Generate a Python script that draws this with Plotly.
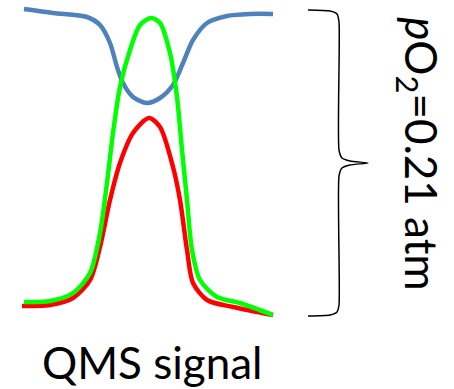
import plotly.graph_objects as go

# Curves (pixel-like coordinate frame: x right, y down)
blue_x = [24, 53, 87, 100, 110, 117, 123, 133, 147, 160, 173, 183, 193, 207, 227, 250, 273]
blue_y = [9, 13, 17, 25, 43, 67, 83, 97, 103, 98, 85, 63, 40, 23, 16, 14, 14]

green_x = [24, 50, 73, 90, 100, 107, 113, 120, 130, 140, 151, 160, 170, 177, 182, 187, 192, 200, 217, 240, 273]
green_y = [302, 301, 293, 273, 233, 183, 133, 87, 50, 25, 18, 23, 53, 97, 150, 200, 250, 280, 297, 303, 315]

red_x = [22, 50, 73, 90, 100, 110, 120, 133, 149, 160, 173, 180, 187, 193, 207, 233, 273]
red_y = [306, 305, 298, 280, 247, 200, 163, 133, 118, 127, 167, 200, 250, 283, 300, 307, 315]

# Brace outline
brace_x = [308, 330, 337, 339, 339, 342, 350, 368, 350, 342, 339, 339, 337, 330, 308]
brace_y = [10, 11, 14, 22, 150, 158, 161, 163, 165, 168, 176, 305, 312, 315, 316]

label_side = "<i>p</i>O<sub>2</sub>=0.21 atm"
label_bottom = "QMS signal"

fig = go.Figure()
fig.add_trace(go.Scatter(x=blue_x, y=blue_y, mode="lines",
                         line=dict(color="#4F81BD", width=4.5, shape="spline", smoothing=0.8)))
fig.add_trace(go.Scatter(x=red_x, y=red_y, mode="lines",
                         line=dict(color="#FF0000", width=4.5, shape="spline", smoothing=0.8)))
fig.add_trace(go.Scatter(x=green_x, y=green_y, mode="lines",
                         line=dict(color="#00FF00", width=4.5, shape="spline", smoothing=0.8)))
fig.add_trace(go.Scatter(x=brace_x, y=brace_y, mode="lines",
                         line=dict(color="black", width=1.5, shape="spline", smoothing=0.6)))

fig.add_annotation(x=419, y=154, text=label_side, textangle=90, showarrow=False,
                   font=dict(family="Lato", size=44, color="black"))
fig.add_annotation(x=152, y=362, text=label_bottom, showarrow=False,
                   font=dict(family="Lato", size=44, color="black"))

fig.update_layout(
    width=454, height=389, margin=dict(l=0, r=0, t=0, b=0),
    paper_bgcolor="white", plot_bgcolor="white", showlegend=False,
    xaxis=dict(range=[0, 454], visible=False, fixedrange=True),
    yaxis=dict(range=[389, 0], visible=False, fixedrange=True),
)
fig.write_html("out.html", config={"displayModeBar": False})
